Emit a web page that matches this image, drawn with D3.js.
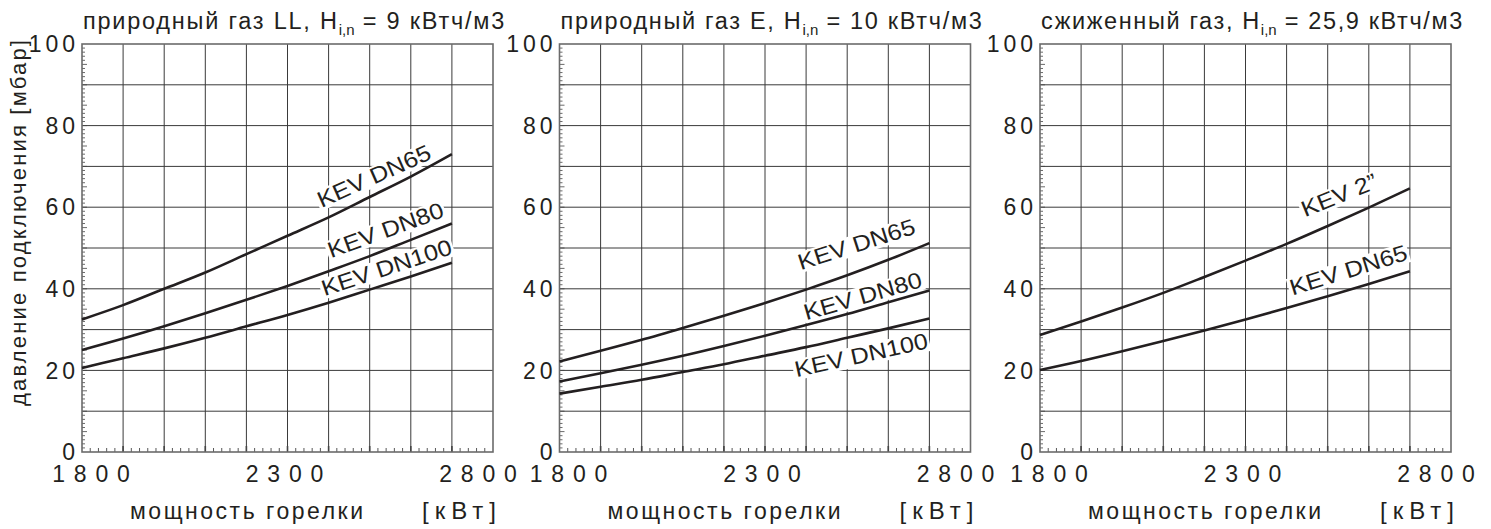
<!DOCTYPE html>
<html><head><meta charset="utf-8">
<script src="https://cdn.jsdelivr.net/npm/d3@7"></script>
<style>
body{margin:0;background:#fff}
svg{display:block}
text{font-family:"Liberation Sans",Arial,Helvetica,sans-serif;fill:#231f20}
</style>
</head><body>
<svg id="c" width="1491" height="529"></svg>
<script>
// ---------------- data ----------------
const power = [1800, 1900, 2000, 2100, 2200, 2300, 2400, 2500, 2600, 2700];

const llDN65  = [32.5, 36.0, 40.0, 44.0, 48.5, 53.0, 57.5, 62.5, 67.5, 73.0];
const llDN80  = [25.0, 27.8, 30.8, 34.0, 37.3, 40.7, 44.3, 48.0, 52.0, 56.0];
const llDN100 = [20.6, 23.0, 25.4, 28.0, 30.8, 33.6, 36.6, 39.8, 43.0, 46.4];

const eDN65  = [22.2, 24.8, 27.5, 30.4, 33.4, 36.5, 39.8, 43.3, 47.1, 51.2];
const eDN80  = [17.3, 19.3, 21.4, 23.6, 26.0, 28.5, 31.1, 33.8, 36.7, 39.6];
const eDN100 = [14.3, 16.0, 17.7, 19.6, 21.5, 23.6, 25.7, 28.0, 30.3, 32.7];

const lpgKEV2  = [28.7, 32.0, 35.4, 39.0, 42.9, 46.9, 51.0, 55.4, 59.9, 64.6];
const lpgDN65  = [20.1, 22.3, 24.7, 27.2, 29.8, 32.5, 35.3, 38.2, 41.2, 44.3];

const xTickValues = [1800, 2300, 2800];
const yTickValues = [0, 20, 40, 60, 80, 100];

const titleHeads = ["природный газ LL, H", "природный газ E, H", "сжиженный газ, H"];
const titleSub = "i,n";
const titleTails = [" = 9 кВтч/м3", " = 10 кВтч/м3", " = 25,9 кВтч/м3"];

const seriesNames = [
  ["KEV DN65", "KEV DN80", "KEV DN100"],
  ["KEV DN65", "KEV DN80", "KEV DN100"],
  ["KEV 2\u201D", "KEV DN65"]
];
const seriesValues = [
  [llDN65, llDN80, llDN100],
  [eDN65, eDN80, eDN100],
  [lpgKEV2, lpgDN65]
];

const xAxisTitleA = "мощность горелки";
const xAxisTitleB = "[кВт]";
const yAxisTitle = "давление подключения [мбар]";

// ---------------- layout ----------------
const panelLeft = [82, 559.5, 1040];
const panelW = 411;
const plotTop = 44, plotBottom = 452;
const SX = 1.12;              // horizontal stretch of curve labels
// label anchor in data space: [power, pressure, angle]
const labelPos = [
  [[2518, 65.9, -24], [2545, 52.6, -20], [2547, 43.4, -18.4]],
  [[2528, 49.1, -17.7], [2543, 36.4, -16], [2538, 21.9, -12.4]],
  [[2535, 61.2, -22], [2556, 42.8, -17.2]]
];
const xLabelShift = [13.4, 1.4, -10.6];
const titleWidth = 423;

const svg = d3.select("#c");
const ink = "#231f20";

const y = d3.scaleLinear().domain([0, 100]).range([plotBottom, plotTop]);

// y axis title
svg.append("text")
  .attr("transform", `translate(26,${(40 + 406) / 2}) rotate(-90)`)
  .attr("text-anchor", "middle")
  .attr("font-size", 22)
  .attr("textLength", 366).attr("lengthAdjust", "spacing")
  .text(yAxisTitle);

panelLeft.forEach((L, p) => {
  const x = d3.scaleLinear().domain([1800, 2800]).range([L, L + panelW]);
  const R = L + panelW;
  const g = svg.append("g");

  // grid
  const vGrid = d3.range(1900, 2800, 100);
  const hGrid = d3.range(10, 100, 10);
  g.append("g").selectAll("line").data(vGrid).join("line")
    .attr("x1", d => x(d)).attr("x2", d => x(d))
    .attr("y1", plotTop).attr("y2", plotBottom)
    .attr("stroke", "#3a3a3a").attr("stroke-width", 1);
  g.append("g").selectAll("line").data(hGrid).join("line")
    .attr("x1", L).attr("x2", R)
    .attr("y1", d => y(d)).attr("y2", d => y(d))
    .attr("stroke", "#3a3a3a").attr("stroke-width", 1);

  // minor ticks y
  g.append("g").selectAll("line").data(d3.range(1, 100, 1)).join("line")
    .attr("x1", L).attr("x2", d => L + (d % 5 === 0 ? 5 : 3))
    .attr("y1", d => y(d)).attr("y2", d => y(d))
    .attr("stroke", "#444").attr("stroke-width", 0.8);
  // minor ticks x
  g.append("g").selectAll("line").data(d3.range(1820, 2800, 20)).join("line")
    .attr("x1", d => x(d)).attr("x2", d => x(d))
    .attr("y1", plotBottom).attr("y2", d => plotBottom - (d % 100 === 0 ? 6 : 4))
    .attr("stroke", "#444").attr("stroke-width", d => d % 100 === 0 ? 1.6 : 0.9);

  // frame
  g.append("rect").attr("x", L).attr("y", plotTop).attr("width", panelW).attr("height", plotBottom - plotTop)
    .attr("fill", "none").attr("stroke", "#6b6b6b").attr("stroke-width", 1.6);

  // y tick labels
  g.append("g").selectAll("text").data(yTickValues).join("text")
    .attr("x", L - 3).attr("y", d => y(d)).attr("dy", "0.36em")
    .attr("text-anchor", "end").attr("font-size", 23)
    .attr("letter-spacing", 4).text(d => d);

  // x tick labels
  g.append("g").selectAll("text").data(xTickValues).join("text")
    .attr("x", (d, i) => x(d) + xLabelShift[i]).attr("y", 482)
    .attr("text-anchor", "middle").attr("font-size", 23)
    .attr("letter-spacing", 8.8).text(d => d);

  // x axis title
  svg.append("text")
    .attr("x", L + 48).attr("y", 519)
    .attr("font-size", 23)
    .attr("textLength", 233).attr("lengthAdjust", "spacing")
    .text(xAxisTitleA);
  svg.append("text")
    .attr("x", R - 71).attr("y", 519)
    .attr("font-size", 24)
    .attr("textLength", 74).attr("lengthAdjust", "spacing")
    .text(xAxisTitleB);

  // title (letter-spacing fitted to the reference width)
  const t = svg.append("text").attr("x", L + 1).attr("y", 29).attr("font-size", 23.5);
  t.append("tspan").attr("class", "m").text(titleHeads[p]);
  t.append("tspan").attr("font-size", 15).attr("dy", 6).text(titleSub);
  t.append("tspan").attr("class", "m").attr("dy", -6).text(titleTails[p]);
  const w0 = t.node().getBBox().width;
  const nChars = (titleHeads[p] + titleTails[p]).length;
  t.selectAll("tspan.m").attr("letter-spacing", Math.max(0, (titleWidth - w0) / nChars));

  // curve labels
  seriesNames[p].forEach((nm, k) => {
    const [lx, ly, ang] = labelPos[p][k];
    const lg = g.append("g")
      .attr("transform", `translate(${x(lx)},${y(ly)}) rotate(${ang}) scale(${SX},1)`);
    const tx = lg.append("text").attr("text-anchor", "middle").attr("font-size", 22.5).text(nm);
    const bb = tx.node().getBBox();
    lg.insert("rect", "text").attr("x", bb.x - 1.5).attr("y", -17.5).attr("width", bb.width + 3).attr("height", 20.5)
      .attr("fill", "#fff");
  });

  // curves
  const line = d3.line().x((d, i) => x(power[i])).y(d => y(d)).curve(d3.curveMonotoneX);
  g.append("g").selectAll("path").data(seriesValues[p]).join("path")
    .attr("d", line).attr("fill", "none").attr("stroke", ink).attr("stroke-width", 2.6);
});
</script>
</body></html>
